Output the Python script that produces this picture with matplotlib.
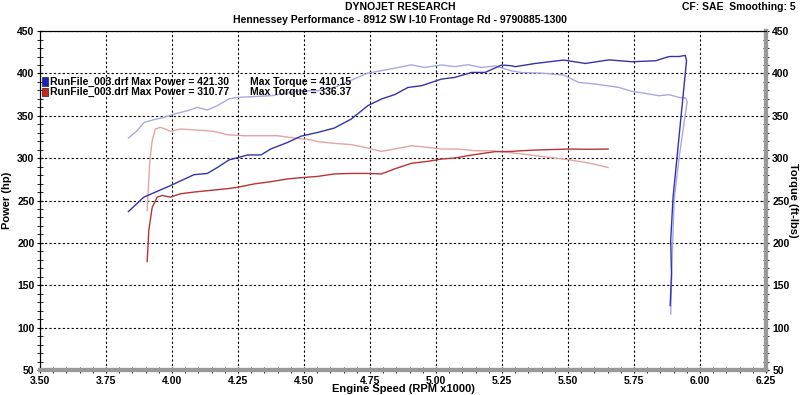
import numpy as np
import matplotlib.pyplot as plt
from matplotlib.patches import Rectangle

# Run 1 (blue) - power (hp) and torque (ft-lbs) vs RPM x1000
blue_pwr_rpm = [3.835, 3.893, 3.994, 4.083, 4.134, 4.172, 4.216, 4.254, 4.286, 4.337, 4.375, 4.438,
                4.489, 4.552, 4.615, 4.679, 4.742, 4.793, 4.843, 4.894, 4.945, 5.021, 5.071, 5.135,
                5.186, 5.249, 5.287, 5.30, 5.376, 5.484, 5.566, 5.655, 5.743, 5.832, 5.883, 5.921,
                5.944, 5.949, 5.898, 5.889, 5.892, 5.887]
blue_pwr = [237, 254, 267.6, 280.5, 282, 289, 298, 301, 303.8, 303.8, 311, 318.6,
            326, 330.4, 335.6, 346.2, 362, 369.8, 375, 383.5, 385.5, 393.4, 395.3, 401.2,
            401.2, 410, 409, 408, 411.8, 415.8, 411.8, 416, 413.8, 415, 420, 420,
            421.3, 415, 254, 203, 163.5, 126]

blue_trq_rpm = [3.835, 3.868, 3.893, 3.931, 3.969, 4.007, 4.058, 4.096, 4.134, 4.172, 4.216, 4.248,
                4.375, 4.489, 4.552, 4.615, 4.679, 4.742, 4.805, 4.856, 4.907, 4.957, 5.021, 5.071,
                5.122, 5.173, 5.224, 5.287, 5.325, 5.401, 5.484, 5.541, 5.604, 5.693, 5.743, 5.794,
                5.845, 5.883, 5.921, 5.946, 5.952, 5.950, 5.921, 5.902, 5.895, 5.889]
blue_trq = [323.8, 332.4, 342, 345.4, 348, 352, 356, 360, 356.8, 362, 370, 371.7,
            373.7, 379.6, 379.6, 383.5, 392, 400.4, 404, 407, 410.15, 407, 410, 408,
            410.3, 407, 409, 403, 401, 400.4, 398, 389.4, 387.5, 383.5, 378.8, 376.4,
            373.7, 375, 371.7, 371, 365.8, 364, 301, 250, 187, 116]

# Run 2 (red)
red_pwr_rpm = [3.906, 3.912, 3.925, 3.944, 3.963, 3.994, 4.032, 4.083, 4.146, 4.210, 4.248, 4.311,
               4.375, 4.438, 4.489, 4.552, 4.615, 4.679, 4.742, 4.793, 4.843, 4.907, 4.970, 5.021,
               5.071, 5.122, 5.186, 5.224, 5.287, 5.325, 5.376, 5.503, 5.579, 5.652]
red_pwr = [178, 214.5, 242, 254, 256, 254, 258, 260, 262, 264, 265.6, 269.6,
           272.3, 275.5, 277, 278.5, 281.4, 282, 282, 281.4, 287.3, 294, 296.3, 299,
           300.2, 303, 306, 307.7, 308, 308.8, 309.6, 310.77, 310.5, 310.8]

red_trq_rpm = [3.906, 3.910, 3.916, 3.925, 3.937, 3.956, 3.975, 3.994, 4.032, 4.096, 4.159, 4.210,
               4.273, 4.337, 4.400, 4.463, 4.527, 4.552, 4.615, 4.679, 4.742, 4.793, 4.843, 4.907,
               4.970, 5.021, 5.084, 5.148, 5.211, 5.274, 5.325, 5.376, 5.503, 5.579, 5.652]
red_trq = [238, 262, 297, 320.6, 334.4, 336.37, 334.4, 331.6, 334.4, 333.2, 331.6, 327.7,
           326.5, 326.5, 326.5, 323.8, 321.5, 319.5, 317.5, 316, 312, 308, 310.8, 314.7,
           312.7, 310.8, 310.8, 308.8, 308.8, 306.8, 305, 303, 298.2, 294.3, 289]

x_ticks = [3.50, 3.75, 4.00, 4.25, 4.50, 4.75, 5.00, 5.25, 5.50, 5.75, 6.00, 6.25]
y_ticks = [50, 100, 150, 200, 250, 300, 350, 400, 450]

plt.rcParams['font.family'] = ['Liberation Sans', 'DejaVu Sans']
plt.rcParams['font.weight'] = 'bold'
FS = 7.5

fig = plt.figure(figsize=(8, 3.95), dpi=100)
ax = fig.add_axes([0.05, 0.0633, 0.9075, 0.858])
ax2 = ax.twinx()

ax.plot(blue_trq_rpm, blue_trq, color='#a8a8e4', lw=1.0)
ax.plot(red_trq_rpm, red_trq, color='#e4a4a4', lw=1.0)
ax.plot(blue_pwr_rpm, blue_pwr, color='#3434a8', lw=1.0)
ax.plot(red_pwr_rpm, red_pwr, color='#b83434', lw=1.0)

for a in (ax, ax2):
    a.set_xlim(3.5, 6.25)
    a.set_ylim(50, 450)
    a.set_yticks(y_ticks)
    a.set_yticks(np.arange(50, 451, 10), minor=True)
ax.set_xticks(x_ticks)
ax.set_xticks(np.arange(3.5, 6.26, 0.05), minor=True)
ax.set_xticklabels(['%.2f' % v for v in x_ticks])

ax.grid(True, which='major', color='black', linestyle=(0, (2, 2)), linewidth=0.8)
ax.tick_params(axis='both', which='major', labelsize=FS, length=5, direction='inout', pad=1.5)
ax.tick_params(axis='both', which='minor', length=4, direction='inout')
ax2.tick_params(axis='y', which='major', labelsize=FS, length=5, direction='inout', pad=2)
ax2.tick_params(axis='y', which='minor', length=4, direction='inout')

for a in (ax, ax2):
    for s in ('left', 'top'):
        a.spines[s].set_linewidth(0.8)
    for s in ('bottom', 'right'):
        a.spines[s].set_color('#999999')
        a.spines[s].set_linewidth(3)

ax.set_xlabel('Engine Speed (RPM x1000)', fontsize=FS + 0.5, fontweight='bold', va='center')
ax.xaxis.set_label_coords(0.5, -0.056)
ax.set_ylabel('Power (hp)', fontsize=FS + 0.5, fontweight='bold', va='center')
ax.yaxis.set_label_coords(-0.045, 0.5)
ax2.set_ylabel('Torque (ft-lbs)', fontsize=FS + 0.5, fontweight='bold', rotation=-90, va='center')
ax2.yaxis.set_label_coords(1.037, 0.5)

fig.text(0.5, 0.982, 'DYNOJET RESEARCH', ha='center', va='center', fontsize=FS, fontweight='bold')
fig.text(0.5, 0.949, 'Hennessey Performance - 8912 SW I-10 Frontage Rd - 9790885-1300',
         ha='center', va='center', fontsize=FS, fontweight='bold')
fig.text(0.995, 0.982, 'CF: SAE  Smoothing: 5', ha='right', va='center', fontsize=FS, fontweight='bold')

# legend lines
legend_rows = [('#2020c0', 'RunFile_003.drf Max Power = 421.30', 'Max Torque = 410.15'),
               ('#d02020', 'RunFile_003.drf Max Power = 310.77', 'Max Torque = 336.37')]
for i, (c, t1, t2) in enumerate(legend_rows):
    y = 0.793 - i * 0.026
    fig.patches.append(Rectangle((0.053, y - 0.011), 0.007, 0.022, transform=fig.transFigure,
                                 facecolor=c, edgecolor='#202020', lw=0.5))
    fig.text(0.062, y, t1, ha='left', va='center', fontsize=FS, fontweight='bold')
    fig.text(0.313, y, t2, ha='left', va='center', fontsize=FS, fontweight='bold')

fig.savefig('out.png', dpi=100)
